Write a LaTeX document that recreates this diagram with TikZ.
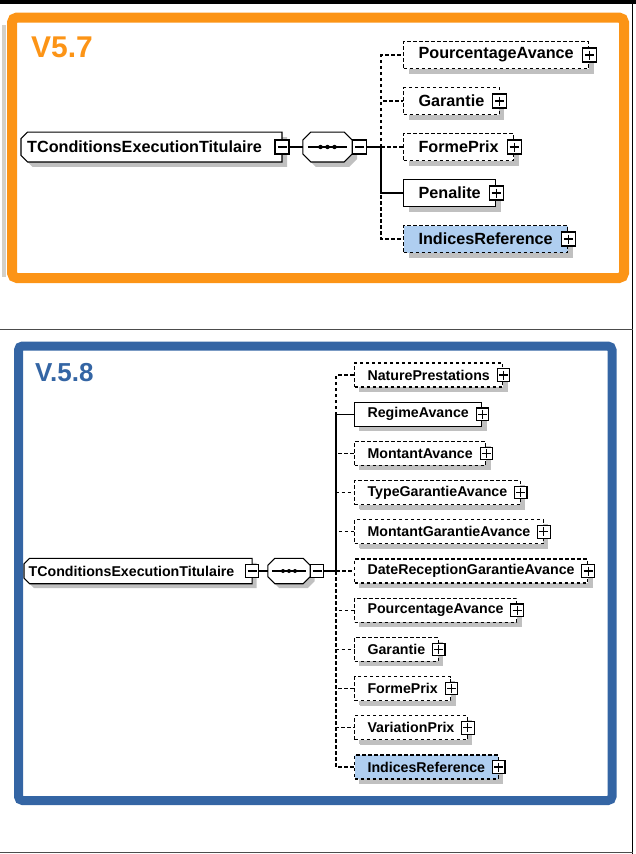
\documentclass[tikz,border=0pt]{standalone}
\usepackage{fontspec}
\setmainfont{Liberation Sans}
\usetikzlibrary{shadows,backgrounds}

\definecolor{vorange}{RGB}{252,148,22}
\definecolor{vblue}{RGB}{52,101,164}
\definecolor{selblue}{RGB}{175,206,240}
\definecolor{shadegray}{RGB}{192,192,192}
\definecolor{stripgray}{RGB}{212,208,200}

% outline of a box with cut corners: node, left cut, right cut
\newcommand\octo[3]{([xshift=#2pt]#1.north west) -- ([xshift=-#3pt]#1.north east) -- ([yshift=-#3pt]#1.north east)
  -- ([yshift=#3pt]#1.south east) -- ([xshift=-#3pt]#1.south east) -- ([xshift=#2pt]#1.south west)
  -- ([yshift=#2pt]#1.south west) -- ([yshift=-#2pt]#1.north west) -- cycle}

\tikzset{
  shad/.style={drop shadow={shadow xshift=#1, shadow yshift=-#1, fill=shadegray, opacity=1}},
  elem/.style={draw, line width=1.1pt, fill=white, anchor=west, inner ysep=0pt, inner xsep=15pt,
    minimum height=27pt, font=\bfseries\fontsize{16.2}{18}\selectfont, shad=5pt},
  opt/.style={elem, dash pattern=on 3.5pt off 2.5pt},
  sel/.style={opt, fill=selblue},
  root/.style={anchor=west, inner xsep=6pt, inner ysep=0pt, minimum height=29.5pt, font=\bfseries\fontsize{16.2}{18}\selectfont},
  seq/.style={inner sep=0pt, minimum width=49pt, minimum height=29.5pt},
  outline/.style={fill=white, draw, line width=1.1pt},
  shadow/.style={fill=shadegray, transform canvas={xshift=#1, yshift=-#1}},
  btn/.style={draw, line width=1.1pt, fill=white, minimum size=14pt, inner sep=0pt},
  plus/.style={btn, path picture={\draw[line width=1.1pt] (path picture bounding box.center) ++(-4.5,0) -- ++(9,0)
    (path picture bounding box.center) ++(0,-4.5) -- ++(0,9);}},
  minus/.style={btn, path picture={\draw[line width=1.1pt] (path picture bounding box.center) ++(-4.5,0) -- ++(9,0);}},
  link/.style={line width=1.1pt},
  optlink/.style={link, dash pattern=on 3.5pt off 2.5pt},
  title/.style={anchor=base west, inner sep=0pt, font=\bfseries\fontsize{30}{36}\selectfont}
}

\begin{document}
\begin{tikzpicture}[x=1pt,y=-1pt]
\useasboundingbox (0,0) rectangle (636,854);
\fill (0,0) rectangle (636,4);
\draw[line width=1.5pt] (632.5,0) -- (632.5,854);
\draw[line width=1.5pt, black!70] (0,329.5) -- (632.5,329.5);
\draw[line width=1.5pt, black!70] (0,852.5) -- (632.5,852.5);
\fill[stripgray] (2,25) rectangle (6,277);
\draw[vorange, line width=10pt, rounded corners=5pt] (12,17.5) rectangle (624,278);
\draw[vblue, line width=9pt, rounded corners=4pt] (18.5,346) rectangle (612,800.5);

% V5.7
\node[title, text=vorange] (v1) at (31,57) {V5.7};
\node[root] (r1) at (21,147) {TConditionsExecutionTitulaire\rule{14pt}{0pt}};
\node[seq] (s1) at (327.5,147) {};
\begin{scope}[on background layer]
\path[shadow=5pt] \octo{r1}{6.5}{0};
\path[outline] \octo{r1}{6.5}{0};
\path[shadow=5pt] \octo{s1}{8}{8};
\path[outline] \octo{s1}{8}{8};
\end{scope}
\draw[link] ([xshift=5pt]s1.west) -- ([xshift=-5pt]s1.east);
\fill (s1) circle (2.2) ++(-7,0) circle (2.2) ++(14,0) circle (2.2);
\node[minus] (r1b) at (r1.east) {};
\node[minus, anchor=west] (s1b) at (s1.east) {};
\coordinate (t1) at (381,147);
\node[opt] (p1) at (403,55) {PourcentageAvance};
\node[opt] (p2) at (403,101) {Garantie};
\node[opt] (p3) at (403,147) {FormePrix};
\node[elem] (p4) at (403,193) {Penalite};
\node[sel] (p5) at (403,239) {IndicesReference};
\node[plus] (p1b) at (p1.east) {};
\node[plus] (p2b) at (p2.east) {};
\node[plus] (p3b) at (p3.east) {};
\node[plus] (p4b) at (p4.east) {};
\node[plus] (p5b) at (p5.east) {};
\draw[link] (r1b) -- (s1);
\draw[link] (s1b) -- (t1);
\draw[optlink] (t1) |- (p1.west);
\draw[optlink] (t1) |- (p2.west);
\draw[optlink] (t1) -- (p3.west);
\draw[optlink] (t1) |- (p5.west);
\draw[link] (t1) |- (p4.west);

% V.5.8
\begin{scope}[elem/.append style={minimum height=24pt, inner xsep=13pt, font=\bfseries\fontsize{14.2}{16}\selectfont, shad=4.5pt},
  root/.append style={minimum height=25pt, inner xsep=4.5pt, font=\bfseries\fontsize{14.2}{16}\selectfont},
  seq/.append style={minimum width=42pt, minimum height=25pt},
  btn/.append style={minimum size=12.5pt}]
\node[title, text=vblue, font=\bfseries\fontsize{26}{32}\selectfont] (v2) at (35,381.5) {V.5.8};
\node[root] (r2) at (24,571) {TConditionsExecutionTitulaire\rule{13pt}{0pt}};
\node[seq] (s2) at (289,571) {};
\begin{scope}[on background layer]
\path[shadow=4.5pt] \octo{r2}{5.5}{0};
\path[outline] \octo{r2}{5.5}{0};
\path[shadow=4.5pt] \octo{s2}{7}{7};
\path[outline] \octo{s2}{7}{7};
\end{scope}
\draw[link] ([xshift=4.5pt]s2.west) -- ([xshift=-4.5pt]s2.east);
\fill (s2) circle (2) ++(-6,0) circle (2) ++(12,0) circle (2);
\node[minus] (r2b) at (r2.east) {};
\node[minus, anchor=west] (s2b) at (s2.east) {};
\coordinate (t2) at (336,571);
\node[opt] (n1) at (354,375) {NaturePrestations};
\node[elem] (n2) at (354,414.2) {RegimeAvance};
\node[opt] (n3) at (354,453.4) {MontantAvance};
\node[opt] (n4) at (354,492.6) {TypeGarantieAvance};
\node[opt] (n5) at (354,531.8) {MontantGarantieAvance};
\node[opt] (n6) at (354,571) {DateReceptionGarantieAvance};
\node[opt] (n7) at (354,610.2) {PourcentageAvance};
\node[opt] (n8) at (354,649.4) {Garantie};
\node[opt] (n9) at (354,688.6) {FormePrix};
\node[opt] (n10) at (354,727.8) {VariationPrix};
\node[sel] (n11) at (354,767) {IndicesReference};
\node[plus] (n1b) at (n1.east) {};
\node[plus] (n2b) at (n2.east) {};
\node[plus] (n3b) at (n3.east) {};
\node[plus] (n4b) at (n4.east) {};
\node[plus] (n5b) at (n5.east) {};
\node[plus] (n6b) at (n6.east) {};
\node[plus] (n7b) at (n7.east) {};
\node[plus] (n8b) at (n8.east) {};
\node[plus] (n9b) at (n9.east) {};
\node[plus] (n10b) at (n10.east) {};
\node[plus] (n11b) at (n11.east) {};
\draw[link] (r2b) -- (s2);
\draw[link] (s2b) -- (t2);
\draw[optlink] (t2) |- (n1.west);
\draw[optlink] (t2) |- (n3.west);
\draw[optlink] (t2) |- (n4.west);
\draw[optlink] (t2) |- (n5.west);
\draw[optlink] (t2) -- (n6.west);
\draw[optlink] (t2) |- (n7.west);
\draw[optlink] (t2) |- (n8.west);
\draw[optlink] (t2) |- (n9.west);
\draw[optlink] (t2) |- (n10.west);
\draw[optlink] (t2) |- (n11.west);
\draw[link] (t2) |- (n2.west);
\end{scope}
\end{tikzpicture}
\end{document}
